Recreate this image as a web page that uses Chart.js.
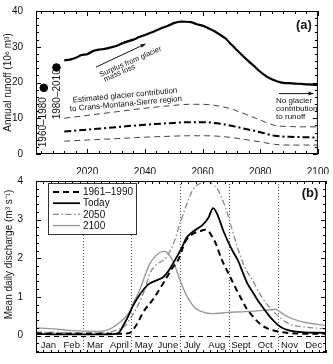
<!DOCTYPE html>
<html><head><meta charset="utf-8">
<script src="https://cdn.jsdelivr.net/npm/chart.js@4/dist/chart.umd.min.js"></script>
<style>
html,body{margin:0;padding:0;background:#fff;}
#wrap{position:relative;width:333px;height:364px;overflow:hidden;}
canvas{position:absolute;left:0;top:0;}
</style></head><body>
<div id="wrap"><canvas id="ca" width="333" height="364"></canvas><canvas id="cb" width="333" height="364"></canvas></div>
<script>
// ---------- Panel (a): annual runoff ----------
const yearsMain = [2012,2014,2016,2018,2020,2022,2024,2026,2028,2030,2032,2034,2036,2038,2040,2042,2044,2046,2048,2050,2052,2054,2056,2058,2060,2062,2064,2066,2068,2070,2072,2074,2076,2078,2080,2082,2084,2086,2088,2090,2092,2094,2096,2098,2100];
const runoffMain = [26.2,26.4,26.9,27.7,27.9,28.8,29.2,29.4,29.8,30.2,30.9,31.5,32.0,32.7,33.3,33.9,34.6,35.3,35.9,36.6,37.0,37.0,36.9,36.3,35.9,35.2,34.4,33.4,32.3,30.6,29.0,27.4,25.9,24.5,23.0,21.8,20.9,20.3,19.9,19.8,19.7,19.6,19.5,19.4,19.3];
const yearsContrib = [2012,2020,2030,2040,2050,2055,2060,2065,2070,2075,2080,2085,2090,2095,2100];
const contribUpper = [10.0,10.8,11.8,12.8,13.6,13.9,13.9,13.5,12.6,11.1,9.5,8.0,7.7,7.6,7.6];
const contribMean  = [6.3,6.8,7.5,8.2,8.7,8.9,8.9,8.6,7.9,7.0,6.1,5.1,4.8,4.7,4.6];
const contribLower = [3.6,3.9,4.3,4.7,5.0,5.1,5.1,5.0,4.6,4.0,3.4,2.7,2.5,2.5,2.5];
const pastYears = [2004.9, 2009.3];
const pastRunoff = [18.5, 24.2];
const pastLabels = ['1960\u20131980', '1980\u20132010'];
const xTicksA = [2020,2040,2060,2080,2100];
const yTicksA = [0,10,20,30,40];

// ---------- Panel (b): mean daily discharge ----------
const months = ['Jan','Feb','Mar','April','May','June','July','Aug','Sept','Oct','Nov','Dec'];
const monthMidDays = [15.5,45,74.5,105,135.5,166,196.5,227.5,258,288.5,319,349.5];
const dividerDays = [59,120,181,243,304];
const days1961 = [0,30,60,90,110,118,122,128,135,147,160,172,180,185,189,198,206,213,218,222,227,233,240,246,252,259,265,272,278,284,292,301,317,340,365];
const q1961 = [0.06,0.05,0.05,0.05,0.05,0.07,0.15,0.33,0.61,0.93,1.35,1.76,2.0,2.29,2.47,2.64,2.7,2.74,2.68,2.55,2.35,2.0,1.7,1.45,1.2,0.93,0.7,0.52,0.38,0.27,0.18,0.12,0.07,0.05,0.05];
const daysToday = [0,30,60,90,102,106,110,116,122,128,135,141,147,154,160,166,172,179,185,189,197,210,217,223,229,236,242,248,254,260,266,272,278,284,292,300,308,317,334,365];
const qToday = [0.04,0.03,0.03,0.03,0.05,0.12,0.27,0.5,0.77,0.98,1.18,1.32,1.39,1.45,1.51,1.65,1.85,2.1,2.34,2.52,2.68,2.87,3.05,3.3,3.1,2.7,2.42,2.17,1.95,1.65,1.35,1.15,0.95,0.77,0.55,0.36,0.22,0.14,0.09,0.07];
const days2050 = [0,30,60,90,102,112,118,125,131,137,143,150,156,162,169,176,181,188,194,200,206,212,217,222,228,234,240,246,253,262,272,284,300,317,338,365];
const q2050 = [0.09,0.08,0.07,0.08,0.15,0.25,0.42,0.65,0.9,1.2,1.6,1.8,1.9,1.97,2.2,2.55,2.89,3.3,3.63,3.85,3.93,3.98,3.99,3.92,3.8,3.55,3.22,2.8,2.32,1.8,1.45,1.0,0.6,0.32,0.22,0.18];
const days2100 = [0,17,45,77,93,106,118,124,131,137,143,150,156,162,169,175,181,188,194,200,206,221,242,263,290,301,307,313,325,339,365];
const q2100 = [0.2,0.18,0.13,0.11,0.17,0.35,0.62,0.9,1.2,1.55,1.85,2.05,2.15,2.18,2.05,1.8,1.45,1.1,0.88,0.72,0.64,0.57,0.6,0.62,0.66,0.68,0.62,0.53,0.42,0.34,0.26];
const seriesNames = ['1961\u20131990','Today','2050','2100'];
const yTicksB = [0,1,2,3,4];

const FONT = "'Liberation Sans', Arial, Helvetica, sans-serif";
Chart.defaults.font.family = FONT;
Chart.defaults.color = '#111';

const pts = (xs, ys) => xs.map((x, i) => ({x, y: ys[i]}));

function rotText(ctx, s, x, y, ang) {
  ctx.save(); ctx.translate(x, y); ctx.rotate(ang);
  ctx.textAlign = 'center'; ctx.textBaseline = 'middle';
  ctx.fillText(s, 0, 0); ctx.restore();
}
function arrow(ctx, x1, y1, x2, y2) {
  const ang = Math.atan2(y2 - y1, x2 - x1);
  ctx.beginPath(); ctx.moveTo(x1, y1); ctx.lineTo(x2, y2); ctx.stroke();
  ctx.beginPath(); ctx.moveTo(x2, y2);
  ctx.lineTo(x2 - 5 * Math.cos(ang) + 2 * Math.sin(ang), y2 - 5 * Math.sin(ang) - 2 * Math.cos(ang));
  ctx.lineTo(x2 - 5 * Math.cos(ang) - 2 * Math.sin(ang), y2 - 5 * Math.sin(ang) + 2 * Math.cos(ang));
  ctx.closePath(); ctx.fill();
}
function range(a, b, s) { const r = []; for (let v = a; v <= b + 1e-9; v += s) r.push(+v.toFixed(4)); return r; }

function framePlugin(id, cfg) {
  return { id, afterDatasetsDraw(chart) {
    const {ctx, chartArea: a} = chart; const xs = chart.scales.x, ys = chart.scales.y;
    ctx.save(); ctx.strokeStyle = '#000'; ctx.lineWidth = 1;
    ctx.strokeRect(a.left + 0.5, a.top + 0.5, a.right - a.left - 1, a.bottom - a.top - 1);
    const tick = (vals, len, axis) => {
      ctx.beginPath();
      vals.forEach(v => {
        if (axis === 'x') { const p = Math.round(xs.getPixelForValue(v)) + 0.5;
          ctx.moveTo(p, a.bottom); ctx.lineTo(p, a.bottom - len); ctx.moveTo(p, a.top); ctx.lineTo(p, a.top + len); }
        else { const p = Math.round(ys.getPixelForValue(v)) + 0.5;
          ctx.moveTo(a.left, p); ctx.lineTo(a.left + len, p); ctx.moveTo(a.right, p); ctx.lineTo(a.right - len, p); }
      });
      ctx.stroke();
    };
    tick(cfg.xMajor, 5, 'x'); tick(cfg.xMinor, 3, 'x'); tick(cfg.yMajor, 5, 'y'); tick(cfg.yMinor, 3, 'y');
    ctx.restore();
  }};
}

const annoA = { id: 'annoA', afterDraw(chart) {
  const {ctx, chartArea: a} = chart;
  const X = v => chart.scales.x.getPixelForValue(v), Y = v => chart.scales.y.getPixelForValue(v);
  ctx.save(); ctx.fillStyle = '#111'; ctx.strokeStyle = '#111'; ctx.lineWidth = 1;
  ctx.font = `10px ${FONT}`;
  rotText(ctx, 'Annual runoff (10\u2076 m\u00b3)', 8, (Y(0) + Y(40)) / 2, -Math.PI / 2);
  rotText(ctx, pastLabels[0], X(pastYears[0]) - 1, Y(8.9), -Math.PI / 2);
  rotText(ctx, pastLabels[1], X(pastYears[1]) + 1, Y(16.7), -Math.PI / 2);
  ctx.font = `7.5px ${FONT}`;
  arrow(ctx, X(2023.0), Y(24.3), X(2040.2), Y(30.8));
  rotText(ctx, 'Surplus from glacier', X(2035.0), Y(25.8), -0.41);
  rotText(ctx, 'mass loss', X(2031.2), Y(22.6), -0.41);
  ctx.font = `8px ${FONT}`;
  rotText(ctx, 'Estimated glacier contribution', X(2033.1), Y(16.4), -0.093);
  rotText(ctx, 'to Crans-Montana-Sierre region', X(2033.4), Y(14.0), -0.093);
  arrow(ctx, X(2086.5), Y(16.9), X(2098.5), Y(16.9));
  ctx.textAlign = 'left'; ctx.textBaseline = 'middle';
  ctx.fillText('No glacier', X(2085.5), Y(15.0));
  ctx.fillText('contribution', X(2085.5), Y(12.7));
  ctx.fillText('to runoff', X(2085.5), Y(10.4));
  ctx.font = `bold 13px ${FONT}`; ctx.textAlign = 'center';
  ctx.fillText('(a)', a.right - 14, a.top + 14);
  ctx.restore();
}};

const chartA = new Chart(document.getElementById('ca'), {
  type: 'line',
  data: { datasets: [
    {label: 'Annual runoff', data: pts(yearsMain, runoffMain), borderColor: '#000', borderWidth: 2.2, pointRadius: 0, tension: 0.2},
    {label: 'Glacier contribution (high)', data: pts(yearsContrib, contribUpper), borderColor: '#444', borderWidth: 1, borderDash: [6, 4], pointRadius: 0, cubicInterpolationMode: 'monotone'},
    {label: 'Glacier contribution (mean)', data: pts(yearsContrib, contribMean), borderColor: '#000', borderWidth: 2, borderDash: [7, 3, 2, 3], pointRadius: 0, cubicInterpolationMode: 'monotone'},
    {label: 'Glacier contribution (low)', data: pts(yearsContrib, contribLower), borderColor: '#444', borderWidth: 1, borderDash: [6, 4], pointRadius: 0, cubicInterpolationMode: 'monotone'},
    {type: 'scatter', label: 'Past runoff', data: pts(pastYears, pastRunoff), backgroundColor: '#000', borderColor: '#000', pointRadius: 3.8, showLine: false}
  ]},
  options: {
    responsive: false, animation: false,
    layout: {padding: {top: 10, right: 11, left: 0, bottom: 190}},
    plugins: {legend: {display: false}, tooltip: {enabled: false}},
    scales: {
      x: {type: 'linear', min: 2002.2, max: 2100, grid: {display: false}, border: {display: false},
          ticks: {font: {size: 10}, padding: 4, color: '#111', maxRotation: 0, callback: v => String(v)},
          afterBuildTicks: s => { s.ticks = xTicksA.map(v => ({value: v})); }, afterFit: s => { s.height = 20; }},
      y: {type: 'linear', min: 0, max: 40, grid: {display: false}, border: {display: false},
          ticks: {font: {size: 10}, padding: 5, color: '#111', callback: v => String(v)},
          afterBuildTicks: s => { s.ticks = yTicksA.map(v => ({value: v})); }, afterFit: s => { s.width = 36; }}
    }
  },
  plugins: [framePlugin('frameA', {xMajor: xTicksA, xMinor: range(2004, 2096, 4), yMajor: yTicksA, yMinor: range(2, 38, 2)}), annoA]
});

// ---------- Panel (b) ----------
const styleB = [
  {color: '#000', width: 2, dash: [6, 4]},
  {color: '#000', width: 1.8, dash: []},
  {color: '#8a8a8a', width: 1.3, dash: [6, 2.5, 1.5, 2.5]},
  {color: '#9a9a9a', width: 1.4, dash: []}
];
const annoB = { id: 'annoB',
  beforeDatasetsDraw(chart) {
    const {ctx, chartArea: a} = chart;
    const X = v => chart.scales.x.getPixelForValue(v), Y = v => chart.scales.y.getPixelForValue(v);
    ctx.save();
    ctx.strokeStyle = '#555'; ctx.lineWidth = 1; ctx.setLineDash([1, 2]);
    ctx.beginPath();
    dividerDays.forEach(d => { const p = Math.round(X(d)) + 0.5; ctx.moveTo(p, a.top); ctx.lineTo(p, a.bottom); });
    ctx.stroke();
    ctx.strokeStyle = '#000'; ctx.setLineDash([5, 4]);
    ctx.beginPath(); const p0 = Math.round(Y(0)) + 0.5; ctx.moveTo(a.left, p0); ctx.lineTo(a.right, p0); ctx.stroke();
    ctx.restore();
  },
  afterDraw(chart) {
    const {ctx, chartArea: a} = chart;
    const X = v => chart.scales.x.getPixelForValue(v), Y = v => chart.scales.y.getPixelForValue(v);
    ctx.save(); ctx.fillStyle = '#111';
    ctx.font = `10px ${FONT}`;
    rotText(ctx, 'Mean daily discharge (m\u00b3 s\u207b\u00b9)', 9, Y(2.1), -Math.PI / 2);
    ctx.font = `9.5px ${FONT}`; ctx.textAlign = 'center'; ctx.textBaseline = 'middle';
    months.forEach((m, i) => ctx.fillText(m, X(monthMidDays[i]), a.bottom - 8));
    const bx = a.left + 12, by = a.top + 2, bw = 88, bh = 51;
    ctx.fillStyle = '#fff'; ctx.fillRect(bx, by, bw, bh);
    ctx.strokeStyle = '#333'; ctx.lineWidth = 1; ctx.strokeRect(bx + 0.5, by + 0.5, bw, bh);
    ctx.font = `10px ${FONT}`; ctx.textAlign = 'left'; ctx.fillStyle = '#111';
    seriesNames.forEach((n, i) => {
      const yy = by + 9 + i * 11.2, st = styleB[i];
      ctx.strokeStyle = st.color; ctx.lineWidth = st.width; ctx.setLineDash(st.dash);
      ctx.beginPath(); ctx.moveTo(bx + 5, yy); ctx.lineTo(bx + 32, yy); ctx.stroke();
      ctx.setLineDash([]);
      ctx.fillText(n, bx + 35, yy + 0.5);
    });
    ctx.font = `bold 13px ${FONT}`; ctx.textAlign = 'center';
    ctx.fillText('(b)', a.right - 16, a.top + 12);
    ctx.restore();
  }
};
const seriesB = [[days1961, q1961], [daysToday, qToday], [days2050, q2050], [days2100, q2100]];
const chartB = new Chart(document.getElementById('cb'), {
  type: 'line',
  data: { datasets: seriesB.map((s, i) => ({
    label: seriesNames[i], data: pts(s[0], s[1]), borderColor: styleB[i].color, borderWidth: styleB[i].width,
    borderDash: styleB[i].dash, pointRadius: 0, cubicInterpolationMode: 'monotone'
  }))},
  options: {
    responsive: false, animation: false,
    layout: {padding: {top: 181, right: 7, left: 0, bottom: 0}},
    plugins: {legend: {display: false}, tooltip: {enabled: false}},
    scales: {
      x: {type: 'linear', min: 0, max: 365, grid: {display: false}, border: {display: false},
          ticks: {display: false}, afterFit: s => { s.height = 3; }},
      y: {type: 'linear', min: -0.45, max: 4, grid: {display: false}, border: {display: false},
          ticks: {font: {size: 10}, padding: 5, color: '#111', callback: v => String(v)},
          afterBuildTicks: s => { s.ticks = yTicksB.map(v => ({value: v})); }, afterFit: s => { s.width = 36; }}
    }
  },
  plugins: [framePlugin('frameB', {xMajor: [], xMinor: range(0, 365, 365 / 40), yMajor: yTicksB, yMinor: range(-0.4, 3.8, 0.2)}), annoB]
});
</script>
</body></html>
